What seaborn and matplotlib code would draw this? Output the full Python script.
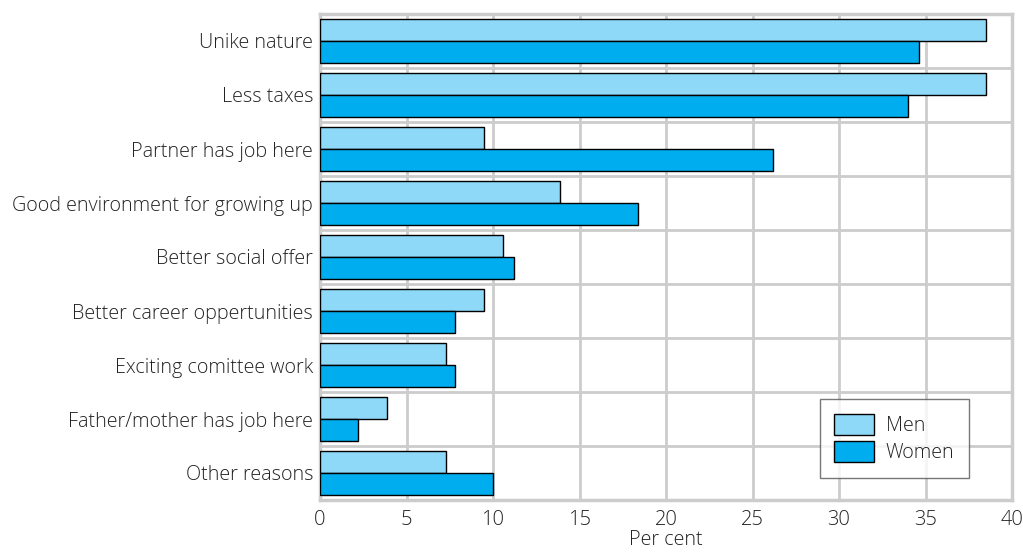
import matplotlib
matplotlib.use("Agg")
import matplotlib.pyplot as plt
import seaborn as sns
import pandas as pd

categories = ["Unike nature", "Less taxes", "Partner has job here",
              "Good environment for growing up", "Better social offer",
              "Better career oppertunities", "Exciting comittee work",
              "Father/mother has job here", "Other reasons"]
men = [38.5, 38.5, 9.5, 13.9, 10.6, 9.5, 7.3, 3.9, 7.3]
women = [34.6, 34.0, 26.2, 18.4, 11.2, 7.8, 7.8, 2.2, 10.0]
series = ["Men", "Women"]
colors = ["#8ed8f8", "#00aeef"]
xticks = [0, 5, 10, 15, 20, 25, 30, 35, 40]

df = pd.DataFrame({
    "category": categories * 2,
    "value": men + women,
    "sex": [series[0]] * len(categories) + [series[1]] * len(categories),
})

sns.set_theme(style="white")
plt.rcParams["font.family"] = ["Open Sans", "DejaVu Sans"]
plt.rcParams["font.weight"] = "light"
plt.rcParams["axes.labelweight"] = "light"

fig = plt.figure(figsize=(10.23, 5.57), dpi=100)
ax = fig.add_axes([320 / 1023, 1 - 500 / 557, 692 / 1023, 486 / 557])

sns.barplot(data=df, y="category", x="value", hue="sex", orient="h",
            palette=colors, order=categories, hue_order=series, saturation=1,
            edgecolor="black", linewidth=1, width=0.8, ax=ax, zorder=3)

ax.set_xlim(0, 40)
ax.set_ylim(len(categories) - 0.5, -0.5)
ax.set_xticks(xticks)
ax.set_xticklabels([str(t) for t in xticks])
ax.set_yticks(range(len(categories)))
ax.set_yticks([i + 0.5 for i in range(-1, len(categories))], minor=True)

grid_c = "#cccccc"
ax.grid(False)
ax.xaxis.grid(True, which="major", color=grid_c, linewidth=2, zorder=0)
ax.yaxis.grid(True, which="minor", color=grid_c, linewidth=2, zorder=0)
ax.set_axisbelow(True)
for s in ax.spines.values():
    s.set_color(grid_c)
    s.set_linewidth(2.5)

fs = 14.2
tc = "#222222"
ax.tick_params(axis="both", which="both", length=0, labelsize=fs, colors=tc)
ax.tick_params(axis="y", pad=5)
ax.tick_params(axis="x", pad=7, labelsize=14.5)
ax.set_ylabel("")
ax.set_xlabel("Per cent", fontsize=fs, color=tc, labelpad=0, fontweight="light")

leg = ax.legend(loc="lower right", bbox_to_anchor=(0.938, 0.045), fontsize=fs,
                frameon=True, fancybox=False, shadow=False, borderpad=0.75,
                borderaxespad=0, handlelength=2.0, handleheight=1.3,
                labelspacing=0.25, handletextpad=0.6)
leg.get_frame().set_edgecolor("#555555")
leg.get_frame().set_linewidth(1)
for t in leg.get_texts():
    t.set_color(tc)
leg.set_zorder(5)

fig.savefig("out.png", dpi=100)
